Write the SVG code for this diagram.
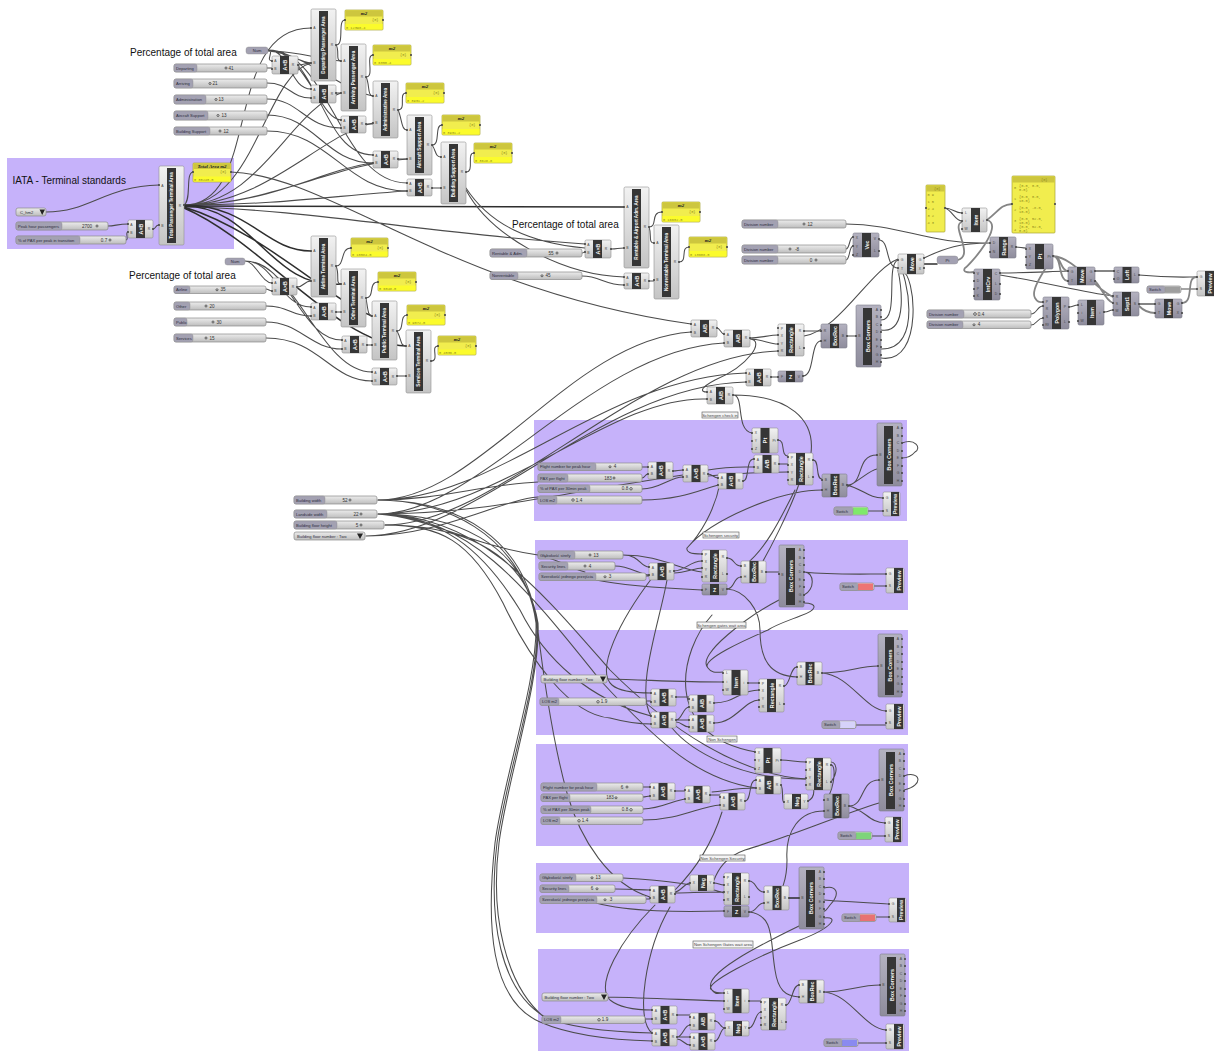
<svg xmlns="http://www.w3.org/2000/svg" width="1214" height="1051" viewBox="0 0 1214 1051">
<defs>
<linearGradient id="gb" x1="0" y1="0" x2="0" y2="1"><stop offset="0" stop-color="#f2f2f2"/><stop offset="1" stop-color="#c4c4c4"/></linearGradient>
<linearGradient id="gp" x1="0" y1="0" x2="0" y2="1"><stop offset="0" stop-color="#b4b2c0"/><stop offset="1" stop-color="#8e8c9c"/></linearGradient>
<linearGradient id="gs" x1="0" y1="0" x2="0" y2="1"><stop offset="0" stop-color="#ececec"/><stop offset="1" stop-color="#bdbdbd"/></linearGradient>
</defs>
<style>
text{font-family:"Liberation Sans",Arial,sans-serif}
.z{fill:#c6b2fa}
.h{font-size:10px;fill:#111}
.w{fill:none;stroke:#4c4c4c;stroke-width:1.05;stroke-linecap:round}
.wg{fill:none;stroke:#858585;stroke-width:1.8;stroke-linecap:round}
.wt{fill:none;stroke:#2e2e2e;stroke-width:1.5;stroke-linecap:round}
.b{fill:url(#gb);stroke:#909090;stroke-width:.6}
.bp{fill:url(#gp);stroke:#7c7c8a;stroke-width:.6}
.s{fill:#363636}
.t{font-size:5.3px;font-weight:700;fill:#f4f4f4;text-anchor:middle;dominant-baseline:central}
#total-terminal .t,#departing .t,#arriving .t,#administrative .t,#aircraft-support .t,#building-support .t,#airline .t,#other .t,#public .t,#services .t,#rentable .t,#nonrentable .t{font-size:4.6px}
.p{font-size:3.4px;fill:#444;text-anchor:middle}
.c{fill:none;stroke:#4a4a4a;stroke-width:2.2;stroke-linecap:round}
.sl{fill:url(#gs);stroke:#8a8a8a;stroke-width:.7}
.sll{fill:#a3a1b2;stroke:#8a8a8a;stroke-width:.4}
.l{font-size:4.1px;fill:#2c2c3a}
.v{font-size:4.6px;fill:#333;text-anchor:middle}
.k{fill:#fff;stroke:#333;stroke-width:.8}
.pa{fill:#f1ed4e;stroke:#a8a436;stroke-width:.7}
.pt{fill:#cdc63e}
.pv{fill:#fbfb2c}
.pn{font-size:5px;font-weight:700;font-style:italic;font-family:"Liberation Serif",serif;fill:#222;text-anchor:middle}
.pi{font-size:3.6px;font-family:"Liberation Mono",monospace;fill:#8f8a1c}
.n{fill:#f4f4f4;stroke:#555;stroke-width:.6}
.nt{font-size:4.2px;fill:#444;text-anchor:middle}
.fl{fill:#222}
</style>

<g id="zones">
<rect class="z" x="7" y="158" width="227" height="91"/>
<rect class="z" x="534" y="420" width="373" height="101"/>
<rect class="z" x="535" y="540" width="373" height="70"/>
<rect class="z" x="536" y="630" width="372" height="105"/>
<rect class="z" x="536" y="744" width="372" height="102"/>
<rect class="z" x="536" y="863" width="373" height="70"/>
<rect class="z" x="538" y="949" width="371" height="102"/>
</g>

<g id="titles">
<text class="h" x="130" y="56">Percentage of total area</text>
<text class="h" x="129" y="279">Percentage of total area</text>
<text class="h" x="512" y="228">Percentage of total area</text>
<text class="h" x="12.5" y="184">IATA - Terminal standards</text>
</g>

<g id="connectors">
<path class="w" d="M46 212C90 212 105 186 159 185M108 226C115 226 118 224 128 224M126 240C129 240 125 232 128 232M153 229C156 229 155 225 159 225M184 205C192 200 185 173 193 172"/>
<path class="w" d="M184 205C262 205 222 28 311 28M184 205C255 205 265 75 311 63M184 205C260 205 290 110 341 93M184 205C265 205 320 135 373 123M184 205C270 205 330 165 407 159M184 205C270 205 320 170 373 163M184 205C280 205 340 195 407 191"/>
<path class="w" d="M268 50C275 50 265 61 272 61M268 50C290 50 290 89 311 89M268 50C305 50 320 120 341 120M268 50C320 50 320 155 373 155M268 50C330 50 340 183 407 183M268 50C285 50 300 63 311 63M268 51C300 51 320 60 341 61M268 51C310 55 340 90 373 96"/>
<path class="w" d="M267 68H272M267 83C290 83 290 98 311 98M267 99C300 99 305 128 341 128M267 115C315 115 325 163 373 163M267 131C330 131 345 191 407 191M298 65C304 65 305 63 311 63M336 93H341M366 124H373M398 159H407M432 188H441"/>
<path class="w" d="M336 45C345 45 337 20 345 20M366 77C375 77 365 55 373 55M398 110C407 110 398 93 406 93M432 145C441 145 434 125 442 125M466 172C475 172 466 153 474 153M336 45C340 50 335 61 341 61M366 77C370 84 367 96 373 96M398 110C402 118 401 130 407 130M432 145C436 150 435 157 441 157"/>
<path class="wt" d="M184 206C300 206 500 207 624 207"/>
<path class="w" d="M184 207C300 208 440 235 585 244M466 188C490 225 530 243 585 248M231 172C330 175 450 290 691 324M466 190C490 235 560 275 624 277M582 253C584 253 583 252 585 252M582 276C600 276 605 285 624 285M611 249C618 249 617 248 624 248M649 281H654M649 227C658 227 650 212 662 212M679 262C688 262 680 247 689 247M649 227C652 235 648 243 654 243"/>
<path class="wt" d="M184 205C250 205 265 251 311 251M184 206C255 206 270 290 341 284M184 207C260 230 330 300 372 316M184 208C260 240 340 346 406 346"/>
<path class="w" d="M297 287C304 287 304 281 311 281M245 261C255 261 262 283 272 283M245 261C275 261 280 307 311 307M245 261C290 261 300 340 342 340M245 261C295 261 320 372 372 372M266 289C268 289 270 291 272 291M266 306C290 306 290 316 311 316M266 322C300 322 310 349 342 349M266 338C320 338 330 381 372 381M336 312H341M367 345H372M397 376H406M336 266C345 266 340 248 351 248M366 298C375 298 368 282 378 282M397 331C405 331 399 315 407 315M431 361C440 361 430 346 438 346M336 266C340 275 335 284 341 284M366 298C368 310 368 316 372 316M397 331C402 340 400 346 406 346"/>
<path class="w" d="M846 224C900 224 930 245 990 243M846 249C850 249 849 237 853 237M846 260C850 260 849 246 853 246M879 240C890 240 885 268 898 268M804 336C840 330 870 270 898 259M924 258C945 248 960 243 990 243M1000 275C1050 283 1080 292 1113 296M945 208C952 208 955 213 962 213M945 208C952 210 955 221 962 221M1016 247C1020 247 1022 248 1026 248M1000 273C1030 273 1040 272 1068 271M1139 275C1170 278 1185 277 1197 277M1181 289H1197M1031 314C1037 314 1037 306 1043 306M1031 325C1037 325 1037 318 1043 318M1069 307C1073 307 1074 305 1078 305M1104 312C1110 312 1108 310 1113 310"/>
<path class="wt" d="M924 264H937"/>
<path class="wg" d="M987 220C1000 210 1000 205 1012 204M987 220C1005 225 970 265 965 268C962 272 968 273 974 272M958 260C975 255 950 225 962 222M1053 256C1062 256 1058 281 1068 281M1053 256C1062 256 1060 271 1068 271M1053 256C1075 258 1090 285 1113 297M1053 256C1045 270 1030 290 1035 298C1038 303 1040 302 1043 302M1095 271H1114M1095 281C1100 285 1105 300 1113 303M1182 303C1195 303 1185 276 1197 277M1139 304H1155M1139 306C1145 312 1150 313 1155 313"/>
<path class="w" d="M881 320C900 320 885 265 898 260M881 330C910 335 900 280 898 270M881 349C925 350 905 270 900 268M881 358C925 365 915 270 902 272M804 331H821M803 376C815 376 810 341 821 341M847 336H856M717 328C720 328 721 334 724 334M750 338C760 338 770 335 778 335M750 339C760 339 770 344 778 344M750 339C765 340 750 365 715 380C700 388 700 392 707 392M771 377H778"/>
<path class="w" d="M378 500C480 500 570 340 691 332M378 514C480 514 590 350 724 343M378 500C500 500 600 378 746 373M366 536C480 536 600 385 746 382M378 514C500 514 610 395 707 399M385 525C500 525 640 355 778 351M378 500C440 500 480 485 538 482M366 536C440 536 500 500 538 497M378 514C480 514 550 495 683 475M733 395C745 395 735 430 752 433M733 395C790 395 815 420 811 453"/>
<path class="w" d="M378 500C440 500 520 530 537 623C540 680 505 780 497 843C488 920 500 990 545 1017C570 1028 610 1032 652 1033M378 514C450 514 525 540 536 623C538 680 503 780 495 843C486 925 490 1000 540 1022C570 1035 610 1040 652 1041M385 525C450 525 525 545 538 623C541 680 507 780 499 843C490 915 505 985 545 1018M378 500C460 500 525 540 537 623C545 690 555 750 567 793C580 840 610 885 650 897M385 525C440 525 470 540 503 603C530 660 570 715 610 718C625 722 640 724 651 724M378 514C440 518 480 545 520 610C545 660 590 700 651 716M378 514C470 518 520 580 600 680C660 745 700 780 756 788M378 514C480 515 540 590 610 670C670 730 740 775 806 779M378 514C430 518 470 545 538 555C560 560 575 570 585 572"/>
<path class="w" d="M642 467H648M642 478C645 478 645 474 648 474M673 471C677 471 679 470 683 470M642 489C660 489 670 477 683 477M708 474C712 474 714 478 718 478M642 500C680 500 700 490 718 485M743 481C750 481 745 459 754 459M708 476C730 474 760 472 788 472M708 470C730 466 745 467 754 467M779 464H788M778 440C786 440 780 456 788 456M813 460C820 460 815 479 822 479M847 485C865 485 855 455 877 455M847 485C865 490 868 498 883 498M847 487C860 480 870 470 877 469M868 511H883M902 443C915 438 922 448 915 452C910 458 905 458 902 458M822 490C780 490 710 520 687 548C686 552 690 554 702 554M720 483C715 510 700 535 687 548M799 484C790 510 770 550 755 575M795 490C780 520 765 550 745 565"/>
<path class="w" d="M623 555C640 555 640 567 649 567M615 566C630 566 640 575 649 575M646 576H649M623 555C660 555 680 570 702 572M674 571C685 571 690 561 702 561M674 573C685 573 695 568 702 568M596 580C620 585 660 588 702 590M727 558C735 558 733 566 741 566M727 589C735 589 733 577 741 577M766 572H779M804 572C830 575 860 574 886 574M874 586H886M804 572C815 572 815 590 804 595M804 603C818 603 818 610 800 616C790 620 775 625 768 630C745 640 700 660 708 668C712 674 718 672 723 672M779 600C750 615 695 655 708 668M727 589C745 590 760 610 760 630C760 660 770 676 797 677"/>
<path class="w" d="M607 679C650 680 680 682 723 682M652 578C620 620 595 670 612 685C620 692 640 693 651 693M646 701H651M667 580C660 620 635 690 651 716M676 697H689M676 720C682 720 683 707 689 707M676 720H689M676 722C682 722 683 727 689 727M714 703C735 703 740 690 759 690M714 723C735 723 745 700 759 700M748 683H759M784 686C790 686 790 667 797 667M822 673C845 673 860 666 878 666M822 673C850 675 865 710 886 711M856 725H886"/>
<path class="w" d="M712 615C680 650 660 735 756 752M672 728C690 750 740 780 806 779"/>
<path class="w" d="M643 787H650M643 797C646 797 647 796 650 796M675 791H685M643 809C660 809 675 800 685 799M710 795H720M643 820C680 820 700 806 720 805M745 801C752 801 748 780 756 780M712 792C730 790 740 788 756 788M781 785C784 790 781 802 784 802M808 801C820 795 810 775 806 776M781 760C790 760 796 762 806 762M831 765C838 765 832 800 824 800M831 782C840 770 835 762 831 762M849 806C865 806 860 780 879 780M849 806C865 810 870 823 885 823M872 836H885M904 776C920 770 925 785 904 790M879 803C840 815 780 840 745 850C725 857 718 870 714 880M824 811C800 811 785 830 787 860C787 875 785 880 783 886M675 890C690 875 710 850 722 812"/>
<path class="w" d="M623 878C660 880 700 885 724 893M615 889C635 889 640 890 650 890M646 899H650M596 903C630 912 680 912 724 911M675 892C680 892 685 883 690 883M675 893C690 893 700 892 724 892M714 883C718 883 720 885 724 885M749 881C757 881 755 892 764 892M749 912C757 912 757 903 764 903M824 900C850 902 870 903 889 904M876 917H889M824 888C835 885 842 892 830 905C825 912 824 912 824 910M824 918C840 916 832 928 800 940C760 955 700 985 712 990C715 993 718 993 724 993M799 926C760 945 700 975 712 990C715 995 718 993 724 993M749 912C775 915 770 940 775 970C778 990 785 996 799 997"/>
<path class="wt" d="M789 898H799"/>
<path class="w" d="M608 997C650 998 690 1000 724 1001M655 905C620 940 595 985 610 1000C620 1008 635 1010 652 1010M670 907C645 950 635 1020 652 1033M645 1019H652M677 1015H690M677 1037C683 1037 684 1025 690 1025M677 1037H690M677 1039C683 1039 684 1045 690 1045M715 1021C720 1021 720 1028 725 1028M715 1041C720 1041 720 1028 725 1028M749 1028C755 1028 755 1012 761 1012M749 1001H761M786 1005C792 1005 792 985 799 985M824 992C845 992 860 985 880 985M824 992C850 994 865 1029 886 1030M858 1043H886"/>
</g>

<g id="total-terminal" transform="translate(159,166)"><rect class="b" width="25" height="79" rx="1.5"/><rect class="s" x="8" y="2" width="9" height="75"/><text class="t" transform="translate(12.5,39.5) rotate(-90)">Total Passenger Terminal Area</text><text class="p" x="3.5" y="20.5">A</text><text class="p" x="3.5" y="60.5">B</text><text class="p" x="21" y="40.5">R</text><path class="c" d="M0 19h.01M0 59h.01M25 39h.01"/></g>
<g id="departing" transform="translate(311,9)"><rect class="b" width="25" height="72" rx="1.5"/><rect class="s" x="8" y="2" width="9" height="68"/><text class="t" transform="translate(12.5,36) rotate(-90)">Departing Passenger Area</text><text class="p" x="3.5" y="20">A</text><text class="p" x="3.5" y="55">B</text><text class="p" x="21" y="37">R</text><path class="c" d="M0 19h.01M0 54h.01M25 36h.01"/></g>
<g id="arriving" transform="translate(341,44)"><rect class="b" width="25" height="67" rx="1.5"/><rect class="s" x="8" y="2" width="9" height="63"/><text class="t" transform="translate(12.5,33.5) rotate(-90)">Arriving Passenger Area</text><text class="p" x="3.5" y="18">A</text><text class="p" x="3.5" y="50">B</text><text class="p" x="21" y="34">R</text><path class="c" d="M0 17h.01M0 49h.01M25 33h.01"/></g>
<g id="administrative" transform="translate(373,81)"><rect class="b" width="25" height="57" rx="1.5"/><rect class="s" x="8" y="2" width="9" height="53"/><text class="t" transform="translate(12.5,28.5) rotate(-90)">Administrative Area</text><text class="p" x="3.5" y="16">A</text><text class="p" x="3.5" y="43">B</text><text class="p" x="21" y="30">R</text><path class="c" d="M0 15h.01M0 42h.01M25 29h.01"/></g>
<g id="aircraft-support" transform="translate(407,115)"><rect class="b" width="25" height="60" rx="1.5"/><rect class="s" x="8" y="2" width="9" height="56"/><text class="t" transform="translate(12.5,30) rotate(-90)">Aircraft Support Area</text><text class="p" x="3.5" y="16">A</text><text class="p" x="3.5" y="45">B</text><text class="p" x="21" y="31">R</text><path class="c" d="M0 15h.01M0 44h.01M25 30h.01"/></g>
<g id="building-support" transform="translate(441,142)"><rect class="b" width="25" height="62" rx="1.5"/><rect class="s" x="8" y="2" width="9" height="58"/><text class="t" transform="translate(12.5,31) rotate(-90)">Building Support Area</text><text class="p" x="3.5" y="16">A</text><text class="p" x="3.5" y="47">B</text><text class="p" x="21" y="31">R</text><path class="c" d="M0 15h.01M0 46h.01M25 30h.01"/></g>
<g id="airline" transform="translate(311,236)"><rect class="b" width="25" height="61" rx="1.5"/><rect class="s" x="8" y="2" width="9" height="57"/><text class="t" transform="translate(12.5,30.5) rotate(-90)">Airline Terminal Area</text><text class="p" x="3.5" y="16">A</text><text class="p" x="3.5" y="46">B</text><text class="p" x="21" y="31">R</text><path class="c" d="M0 15h.01M0 45h.01M25 30h.01"/></g>
<g id="other" transform="translate(341,269)"><rect class="b" width="25" height="58" rx="1.5"/><rect class="s" x="8" y="2" width="9" height="54"/><text class="t" transform="translate(12.5,29) rotate(-90)">Other Terminal Area</text><text class="p" x="3.5" y="16">A</text><text class="p" x="3.5" y="44">B</text><text class="p" x="21" y="30">R</text><path class="c" d="M0 15h.01M0 43h.01M25 29h.01"/></g>
<g id="public" transform="translate(372,301)"><rect class="b" width="25" height="59" rx="1.5"/><rect class="s" x="8" y="2" width="9" height="55"/><text class="t" transform="translate(12.5,29.5) rotate(-90)">Public Terminal Area</text><text class="p" x="3.5" y="16">A</text><text class="p" x="3.5" y="45">B</text><text class="p" x="21" y="31">R</text><path class="c" d="M0 15h.01M0 44h.01M25 30h.01"/></g>
<g id="services" transform="translate(406,330)"><rect class="b" width="25" height="63" rx="1.5"/><rect class="s" x="8" y="2" width="9" height="59"/><text class="t" transform="translate(12.5,31.5) rotate(-90)">Services Terminal Area</text><text class="p" x="3.5" y="17">A</text><text class="p" x="3.5" y="47">B</text><text class="p" x="21" y="32">R</text><path class="c" d="M0 16h.01M0 46h.01M25 31h.01"/></g>
<g id="rentable" transform="translate(624,187)"><rect class="b" width="25" height="81" rx="1.5"/><rect class="s" x="8" y="2" width="9" height="77"/><text class="t" transform="translate(12.5,40.5) rotate(-90)">Rentable &amp; Airport Adm. Area</text><text class="p" x="3.5" y="21">A</text><text class="p" x="3.5" y="62">B</text><text class="p" x="21" y="41">R</text><path class="c" d="M0 20h.01M0 61h.01M25 40h.01"/></g>
<g id="nonrentable" transform="translate(654,225)"><rect class="b" width="25" height="74" rx="1.5"/><rect class="s" x="8" y="2" width="9" height="70"/><text class="t" transform="translate(12.5,37) rotate(-90)">Nonrentable Terminal Area</text><text class="p" x="3.5" y="19">A</text><text class="p" x="3.5" y="56">B</text><text class="p" x="21" y="38">R</text><path class="c" d="M0 18h.01M0 55h.01M25 37h.01"/></g>

<g id="mul-total" transform="translate(128,220)"><rect class="b" width="25" height="18" rx="1.5"/><rect class="s" x="8" width="9" height="18"/><text class="t" transform="translate(12.5,9) rotate(-90)">A×B</text><text class="p" x="3.5" y="6">A</text><text class="p" x="3.5" y="14">B</text><text class="p" x="21" y="10">R</text><path class="c" d="M0 4h.01M0 12h.01M25 9h.01"/></g>
<g id="mul-1" transform="translate(272,56)"><rect class="b" width="26" height="18" rx="1.5"/><rect class="s" x="8" width="9" height="18"/><text class="t" transform="translate(12.5,9) rotate(-90)">A×B</text><text class="p" x="3.5" y="6">A</text><text class="p" x="3.5" y="14">B</text><text class="p" x="21" y="10">R</text><path class="c" d="M0 5h.01M0 13h.01M26 9h.01"/></g>
<g id="mul-2" transform="translate(311,85)"><rect class="b" width="25" height="18" rx="1.5"/><rect class="s" x="8" width="9" height="18"/><text class="t" transform="translate(12.5,9) rotate(-90)">A×B</text><text class="p" x="3.5" y="6">A</text><text class="p" x="3.5" y="14">B</text><text class="p" x="21" y="10">R</text><path class="c" d="M0 4h.01M0 13h.01M25 8h.01"/></g>
<g id="mul-3" transform="translate(341,116)"><rect class="b" width="25" height="17" rx="1.5"/><rect class="s" x="8" width="9" height="17"/><text class="t" transform="translate(12.5,8.5) rotate(-90)">A×B</text><text class="p" x="3.5" y="6">A</text><text class="p" x="3.5" y="13">B</text><text class="p" x="21" y="9">R</text><path class="c" d="M0 4h.01M0 12h.01M25 8h.01"/></g>
<g id="mul-4" transform="translate(373,151)"><rect class="b" width="25" height="17" rx="1.5"/><rect class="s" x="8" width="9" height="17"/><text class="t" transform="translate(12.5,8.5) rotate(-90)">A×B</text><text class="p" x="3.5" y="6">A</text><text class="p" x="3.5" y="13">B</text><text class="p" x="21" y="9">R</text><path class="c" d="M0 4h.01M0 12h.01M25 8h.01"/></g>
<g id="mul-5" transform="translate(407,179)"><rect class="b" width="25" height="17" rx="1.5"/><rect class="s" x="8" width="9" height="17"/><text class="t" transform="translate(12.5,8.5) rotate(-90)">A×B</text><text class="p" x="3.5" y="6">A</text><text class="p" x="3.5" y="13">B</text><text class="p" x="21" y="9">R</text><path class="c" d="M0 4h.01M0 12h.01M25 9h.01"/></g>
<g id="mul-6" transform="translate(272,278)"><rect class="b" width="25" height="17" rx="1.5"/><rect class="s" x="8" width="9" height="17"/><text class="t" transform="translate(12.5,8.5) rotate(-90)">A×B</text><text class="p" x="3.5" y="6">A</text><text class="p" x="3.5" y="14">B</text><text class="p" x="21" y="10">R</text><path class="c" d="M0 5h.01M0 13h.01M25 9h.01"/></g>
<g id="mul-7" transform="translate(311,303)"><rect class="b" width="25" height="17" rx="1.5"/><rect class="s" x="8" width="9" height="17"/><text class="t" transform="translate(12.5,8.5) rotate(-90)">A×B</text><text class="p" x="3.5" y="6">A</text><text class="p" x="3.5" y="14">B</text><text class="p" x="21" y="10">R</text><path class="c" d="M0 4h.01M0 13h.01M25 9h.01"/></g>
<g id="mul-8" transform="translate(342,336)"><rect class="b" width="25" height="17" rx="1.5"/><rect class="s" x="8" width="9" height="17"/><text class="t" transform="translate(12.5,8.5) rotate(-90)">A×B</text><text class="p" x="3.5" y="6">A</text><text class="p" x="3.5" y="14">B</text><text class="p" x="21" y="10">R</text><path class="c" d="M0 4h.01M0 13h.01M25 9h.01"/></g>
<g id="mul-9" transform="translate(372,368)"><rect class="b" width="25" height="17" rx="1.5"/><rect class="s" x="8" width="9" height="17"/><text class="t" transform="translate(12.5,8.5) rotate(-90)">A×B</text><text class="p" x="3.5" y="6">A</text><text class="p" x="3.5" y="14">B</text><text class="p" x="21" y="10">R</text><path class="c" d="M0 4h.01M0 13h.01M25 8h.01"/></g>
<g id="mul-10" transform="translate(585,240)"><rect class="b" width="26" height="18" rx="1.5"/><rect class="s" x="8" width="9" height="18"/><text class="t" transform="translate(12.5,9) rotate(-90)">A×B</text><text class="p" x="3.5" y="6">A</text><text class="p" x="3.5" y="14">B</text><text class="p" x="21" y="10">R</text><path class="c" d="M0 4h.01M0 12h.01M26 9h.01"/></g>
<g id="mul-11" transform="translate(624,273)"><rect class="b" width="25" height="16" rx="1.5"/><rect class="s" x="8" width="9" height="16"/><text class="t" transform="translate(12.5,8) rotate(-90)">A×B</text><text class="p" x="3.5" y="6">A</text><text class="p" x="3.5" y="13">B</text><text class="p" x="21" y="9">R</text><path class="c" d="M0 4h.01M0 12h.01M25 8h.01"/></g>

<g id="panel-total" transform="translate(193,163)"><rect class="pa" width="38" height="19" rx="1"/><rect class="pt" x=".5" y=".5" width="37" height="5.5"/><rect class="pv" x=".5" y="13.5" width="37" height="5"/><text class="pn" x="19" y="4.6">Total Area m2</text><text class="pi" x="27" y="10">{0}</text><text class="pi" x="1" y="17.8">0 30240.0</text><path class="c" d="M0 9h.01M38 9h.01"/></g>
<g id="panel-1" transform="translate(345,10)"><rect class="pa" width="38" height="20" rx="1"/><rect class="pt" x=".5" y=".5" width="37" height="6"/><rect class="pv" x=".5" y="14" width="37" height="5.5"/><text class="pn" x="19" y="5">m2</text><text class="pi" x="27" y="11">{0}</text><text class="pi" x="1" y="18.5">0 12398.4</text><path class="c" d="M0 10h.01M38 10h.01"/></g>
<g id="panel-2" transform="translate(373,45)"><rect class="pa" width="38" height="20" rx="1"/><rect class="pt" x=".5" y=".5" width="37" height="6"/><rect class="pv" x=".5" y="14" width="37" height="5.5"/><text class="pn" x="19" y="5">m2</text><text class="pi" x="27" y="11">{0}</text><text class="pi" x="1" y="18.5">0 6350.4</text><path class="c" d="M0 10h.01M38 10h.01"/></g>
<g id="panel-3" transform="translate(406,83)"><rect class="pa" width="38" height="20" rx="1"/><rect class="pt" x=".5" y=".5" width="37" height="6"/><rect class="pv" x=".5" y="14" width="37" height="5.5"/><text class="pn" x="19" y="5">m2</text><text class="pi" x="27" y="11">{0}</text><text class="pi" x="1" y="18.5">0 3931.2</text><path class="c" d="M0 10h.01M38 10h.01"/></g>
<g id="panel-4" transform="translate(442,115)"><rect class="pa" width="38" height="20" rx="1"/><rect class="pt" x=".5" y=".5" width="37" height="6"/><rect class="pv" x=".5" y="14" width="37" height="5.5"/><text class="pn" x="19" y="5">m2</text><text class="pi" x="27" y="11">{0}</text><text class="pi" x="1" y="18.5">0 3931.2</text><path class="c" d="M0 10h.01M38 10h.01"/></g>
<g id="panel-5" transform="translate(474,143)"><rect class="pa" width="38" height="20" rx="1"/><rect class="pt" x=".5" y=".5" width="37" height="6"/><rect class="pv" x=".5" y="14" width="37" height="5.5"/><text class="pn" x="19" y="5">m2</text><text class="pi" x="27" y="11">{0}</text><text class="pi" x="1" y="18.5">0 3628.8</text><path class="c" d="M0 10h.01M38 10h.01"/></g>
<g id="panel-6" transform="translate(351,238)"><rect class="pa" width="37" height="19" rx="1"/><rect class="pt" x=".5" y=".5" width="36" height="6"/><rect class="pv" x=".5" y="13.5" width="36" height="5"/><text class="pn" x="18.5" y="5">m2</text><text class="pi" x="26" y="11">{0}</text><text class="pi" x="1" y="17.8">0 10584.0</text><path class="c" d="M0 10h.01M37 10h.01"/></g>
<g id="panel-7" transform="translate(378,272)"><rect class="pa" width="38" height="19" rx="1"/><rect class="pt" x=".5" y=".5" width="37" height="6"/><rect class="pv" x=".5" y="13.5" width="37" height="5"/><text class="pn" x="19" y="5">m2</text><text class="pi" x="27" y="11">{0}</text><text class="pi" x="1" y="17.8">0 6048.0</text><path class="c" d="M0 10h.01M38 10h.01"/></g>
<g id="panel-8" transform="translate(407,305)"><rect class="pa" width="38" height="20" rx="1"/><rect class="pt" x=".5" y=".5" width="37" height="6"/><rect class="pv" x=".5" y="14" width="37" height="5.5"/><text class="pn" x="19" y="5">m2</text><text class="pi" x="27" y="11">{0}</text><text class="pi" x="1" y="18.5">0 9072.0</text><path class="c" d="M0 10h.01M38 10h.01"/></g>
<g id="panel-9" transform="translate(438,336)"><rect class="pa" width="38" height="19" rx="1"/><rect class="pt" x=".5" y=".5" width="37" height="6"/><rect class="pv" x=".5" y="13.5" width="37" height="5"/><text class="pn" x="19" y="5">m2</text><text class="pi" x="27" y="11">{0}</text><text class="pi" x="1" y="17.8">0 4536.0</text><path class="c" d="M0 10h.01M38 10h.01"/></g>
<g id="panel-10" transform="translate(662,202)"><rect class="pa" width="38" height="20" rx="1"/><rect class="pt" x=".5" y=".5" width="37" height="6"/><rect class="pv" x=".5" y="14" width="37" height="5.5"/><text class="pn" x="19" y="5">m2</text><text class="pi" x="27" y="11">{0}</text><text class="pi" x="1" y="18.5">0 16632.0</text><path class="c" d="M0 10h.01M38 10h.01"/></g>
<g id="panel-11" transform="translate(689,237)"><rect class="pa" width="38" height="20" rx="1"/><rect class="pt" x=".5" y=".5" width="37" height="6"/><rect class="pv" x=".5" y="14" width="37" height="5.5"/><text class="pn" x="19" y="5">m2</text><text class="pi" x="27" y="11">{0}</text><text class="pi" x="1" y="18.5">0 13608.0</text><path class="c" d="M0 10h.01M38 10h.01"/></g>

<g id="s-hm2" transform="translate(16,208)"><rect class="sl" width="30" height="8" rx="2"/><text class="l" x="4" y="5.5">C_hm2</text><polygon class="fl" points="23.5,1.5 29,1.5 26.2,7"/></g>
<g id="s-peak" transform="translate(16,222)"><rect class="sl" width="92" height="8" rx="2"/><rect class="sll" width="46" height="8" rx="2"/><text class="l" x="2" y="5.5">Peak hour passengers</text><text class="v" x="71" y="5.6">2700</text><circle class="k" cx="81" cy="4" r="1"/></g>
<g id="s-pax" transform="translate(16,236)"><rect class="sl" width="110" height="8" rx="2"/><rect class="sll" width="64" height="8" rx="2"/><text class="l" x="2" y="5.5">% of PAX per peak in transition</text><text class="v" x="88" y="5.6">0.7</text><circle class="k" cx="94" cy="4" r="1"/></g>
<g id="s-dep" transform="translate(174,64)"><rect class="sl" width="93" height="8" rx="2"/><rect class="sll" width="23" height="8" rx="2"/><text class="l" x="2" y="5.5">Departing</text><circle class="k" cx="52" cy="4" r="1"/><text class="v" x="57" y="5.6">41</text></g>
<g id="s-arr" transform="translate(174,79)"><rect class="sl" width="93" height="9" rx="2"/><rect class="sll" width="19" height="9" rx="2"/><text class="l" x="2" y="6">Arriving</text><circle class="k" cx="36" cy="4.5" r="1"/><text class="v" x="41" y="6">21</text></g>
<g id="s-adm" transform="translate(174,95)"><rect class="sl" width="93" height="9" rx="2"/><rect class="sll" width="32" height="9" rx="2"/><text class="l" x="2" y="6">Administration</text><circle class="k" cx="42" cy="4.5" r="1"/><text class="v" x="47" y="6">13</text></g>
<g id="s-air" transform="translate(174,111)"><rect class="sl" width="93" height="9" rx="2"/><rect class="sll" width="34" height="9" rx="2"/><text class="l" x="2" y="6">Aircraft Support</text><circle class="k" cx="44" cy="4.5" r="1"/><text class="v" x="50" y="6">13</text></g>
<g id="s-bld" transform="translate(174,127)"><rect class="sl" width="93" height="8" rx="2"/><rect class="sll" width="36" height="8" rx="2"/><text class="l" x="2" y="5.5">Building Support</text><circle class="k" cx="46" cy="4" r="1"/><text class="v" x="52" y="5.6">12</text></g>
<g id="num-1" transform="translate(246,47)"><rect class="sll" width="22" height="7" rx="2.5"/><text class="l" x="11" y="5" text-anchor="middle">Num</text></g>
<g id="num-2" transform="translate(225,258)"><rect class="sll" width="20" height="7" rx="2.5"/><text class="l" x="10" y="5" text-anchor="middle">Num</text></g>
<g id="s-airl" transform="translate(174,286)"><rect class="sl" width="92" height="7.5" rx="2"/><rect class="sll" width="16" height="7.5" rx="2"/><text class="l" x="2" y="5.4">Airline</text><circle class="k" cx="43" cy="3.8" r="1"/><text class="v" x="49" y="5.4">35</text></g>
<g id="s-oth" transform="translate(174,302)"><rect class="sl" width="92" height="8" rx="2"/><rect class="sll" width="16" height="8" rx="2"/><text class="l" x="2" y="5.5">Other</text><circle class="k" cx="32" cy="4" r="1"/><text class="v" x="38" y="5.5">20</text></g>
<g id="s-pub" transform="translate(174,318)"><rect class="sl" width="92" height="8" rx="2"/><rect class="sll" width="13" height="8" rx="2"/><text class="l" x="2" y="5.5">Public</text><circle class="k" cx="39" cy="4" r="1"/><text class="v" x="45" y="5.5">30</text></g>
<g id="s-ser" transform="translate(174,334)"><rect class="sl" width="92" height="8" rx="2"/><rect class="sll" width="19" height="8" rx="2"/><text class="l" x="2" y="5.5">Services</text><circle class="k" cx="32" cy="4" r="1"/><text class="v" x="38" y="5.5">15</text></g>
<g id="s-ren" transform="translate(490,249)"><rect class="sl" width="92" height="8" rx="2"/><rect class="sll" width="37" height="8" rx="2"/><text class="l" x="2" y="5.5">Rentable &amp; Adm.</text><text class="v" x="61" y="5.5">55</text><circle class="k" cx="67" cy="4" r="1"/></g>
<g id="s-non" transform="translate(490,272)"><rect class="sl" width="92" height="7.5" rx="2"/><rect class="sll" width="28" height="7.5" rx="2"/><text class="l" x="2" y="5.3">Nonrentable</text><circle class="k" cx="52" cy="3.8" r="1"/><text class="v" x="58" y="5.3">45</text></g>
<g id="s-div1" transform="translate(742,220)"><rect class="sl" width="104" height="8" rx="2"/><rect class="sll" width="36" height="8" rx="2"/><text class="l" x="2" y="5.5">Division number</text><circle class="k" cx="62" cy="4" r="1"/><text class="v" x="68" y="5.5">12</text></g>
<g id="s-div2" transform="translate(742,245)"><rect class="sl" width="104" height="8" rx="2"/><rect class="sll" width="36" height="8" rx="2"/><text class="l" x="2" y="5.5">Division number</text><circle class="k" cx="48" cy="4" r="1"/><text class="v" x="55" y="5.5">-8</text></g>
<g id="s-div3" transform="translate(742,256)"><rect class="sl" width="104" height="8" rx="2"/><rect class="sll" width="36" height="8" rx="2"/><text class="l" x="2" y="5.5">Division number</text><text class="v" x="69" y="5.5">0</text><circle class="k" cx="74" cy="4" r="1"/></g>
<g id="s-div4" transform="translate(927,310)"><rect class="sl" width="104" height="8" rx="2"/><rect class="sll" width="37" height="8" rx="2"/><text class="l" x="2" y="5.5">Division number</text><circle class="k" cx="48" cy="4" r="1.3"/><text class="v" x="54" y="5.5">0.4</text></g>
<g id="s-div5" transform="translate(927,321)"><rect class="sl" width="104" height="7.5" rx="2"/><rect class="sll" width="36" height="7.5" rx="2"/><text class="l" x="2" y="5.3">Division number</text><circle class="k" cx="47" cy="3.8" r="1"/><text class="v" x="52" y="5.3">4</text></g>

<g id="vec" transform="translate(853,233)"><rect class="bp" width="26" height="24" rx="1.5"/><rect class="s" x="9" width="9" height="24"/><text class="t" transform="translate(13.5,12) rotate(-90)">Vec</text><text class="p" x="4" y="5.5">X</text><text class="p" x="4" y="14.5">Y</text><text class="p" x="4" y="23">Z</text><text class="p" x="22" y="7">V</text><text class="p" x="22" y="19">L</text><path class="c" d="M0 4h.01M0 13h.01M0 22h.01M26 6h.01M26 18h.01"/></g>
<g id="div-1" transform="translate(691,320)"><rect class="b" width="26" height="17" rx="1.5"/><rect class="s" x="9" width="9" height="17"/><text class="t" transform="translate(13.5,8.5) rotate(-90)">A/B</text><text class="p" x="4" y="6">A</text><text class="p" x="4" y="14">B</text><text class="p" x="22" y="9">R</text><path class="c" d="M0 4h.01M0 12h.01M26 8h.01"/></g>
<g id="div-2" transform="translate(724,330)"><rect class="b" width="26" height="17" rx="1.5"/><rect class="s" x="9" width="9" height="17"/><text class="t" transform="translate(13.5,8.5) rotate(-90)">A/B</text><text class="p" x="4" y="6">A</text><text class="p" x="4" y="14">B</text><text class="p" x="22" y="9">R</text><path class="c" d="M0 4h.01M0 13h.01M26 8h.01"/></g>
<g id="rect-0" transform="translate(778,324)"><rect class="b" width="26" height="32" rx="1.5"/><rect class="s" x="8" width="9" height="32"/><text class="t" transform="translate(12.5,16) rotate(-90)">Rectangle</text><text class="p" x="4" y="6">P</text><text class="p" x="4" y="13">X</text><text class="p" x="4" y="21">Y</text><text class="p" x="4" y="28">R</text><text class="p" x="22" y="8">R</text><text class="p" x="22" y="25">L</text><path class="c" d="M0 4h.01M0 11h.01M0 20h.01M0 27h.01M26 7h.01M26 24h.01"/></g>
<g id="boxrec-0" transform="translate(821,324)"><rect class="bp" width="26" height="24" rx="1.5"/><rect class="s" x="9" width="9" height="24"/><text class="t" transform="translate(13.5,12) rotate(-90)">BoxRec</text><text class="p" x="4" y="8">R</text><text class="p" x="4" y="18">H</text><text class="p" x="22" y="13">B</text><path class="c" d="M0 7h.01M0 17h.01M26 12h.01"/></g>
<g id="corners-0" transform="translate(856,305)"><rect class="bp" width="25" height="62" rx="1.5"/><rect class="s" x="7" y="3" width="9" height="57"/><text class="t" transform="translate(11.5,31) rotate(-90)">Box Corners</text><text class="p" x="3.5" y="32">B</text><text class="p" x="21" y="6">A</text><text class="p" x="21" y="13">B</text><text class="p" x="21" y="21">C</text><text class="p" x="21" y="28">D</text><text class="p" x="21" y="36">E</text><text class="p" x="21" y="43">F</text><text class="p" x="21" y="51">G</text><text class="p" x="21" y="58">H</text><path class="c" d="M0 31h.01M25 5h.01M25 12h.01M25 20h.01M25 27h.01M25 35h.01M25 42h.01M25 50h.01M25 57h.01"/></g>
<g id="mul-12" transform="translate(746,369)"><rect class="b" width="25" height="17" rx="1.5"/><rect class="s" x="8" width="9" height="17"/><text class="t" transform="translate(12.5,8.5) rotate(-90)">A×B</text><text class="p" x="3.5" y="6">A</text><text class="p" x="3.5" y="14">B</text><text class="p" x="21" y="9">R</text><path class="c" d="M0 4h.01M0 13h.01M25 8h.01"/></g>
<g id="z-0" transform="translate(778,371)"><rect class="bp" width="25" height="11" rx="1.5"/><rect class="s" x="8" width="9" height="11"/><text class="t" x="12.5" y="5.5">Z</text><text class="p" x="4" y="7">F</text><text class="p" x="21" y="7">V</text><path class="c" d="M0 6h.01M25 5h.01"/></g>
<g id="div-3" transform="translate(707,387)"><rect class="b" width="26" height="17" rx="1.5"/><rect class="s" x="9" width="9" height="17"/><text class="t" transform="translate(13.5,8.5) rotate(-90)">A/B</text><text class="p" x="4" y="6">A</text><text class="p" x="4" y="14">B</text><text class="p" x="22" y="9">R</text><path class="c" d="M0 5h.01M0 12h.01M26 8h.01"/></g>

<g id="panel-list" transform="translate(926,185)"><rect class="pa" width="19" height="47" rx="1"/><rect class="pt" x=".5" y=".5" width="18" height="6"/><text class="pi" x="8" y="5">{0}</text><text class="pi" x="1.5" y="11">0 9</text><text class="pi" x="1.5" y="18">1 5</text><text class="pi" x="1.5" y="25">2 4</text><text class="pi" x="1.5" y="32">3 2</text><text class="pi" x="1.5" y="39">4 3</text><path class="c" d="M0 23h.01M19 23h.01"/></g>
<g id="panel-points" transform="translate(1012,176)"><rect class="pa" width="43" height="57" rx="1"/><rect class="pt" x=".5" y=".5" width="42" height="6"/><text class="pi" x="29" y="5">{0}</text>
<text class="pi" x="7" y="11">{0.0, 0.0,</text><text class="pi" x="7" y="15">0.0}</text><text class="pi" x="7" y="22">{0.0, 0.0,</text><text class="pi" x="7" y="26">10.0}</text><text class="pi" x="7" y="33">{0.0, -8.0,</text><text class="pi" x="7" y="37">10.0}</text><text class="pi" x="7" y="44">{0.0, 52.0,</text><text class="pi" x="7" y="48">10.0}</text><text class="pi" x="7" y="52">{0.0, 52.0,</text><text class="pi" x="7" y="56">0.0}</text><text class="pi" x="2" y="13">0</text><text class="pi" x="2" y="24">1</text><text class="pi" x="2" y="35">2</text><text class="pi" x="2" y="46">3</text><text class="pi" x="2" y="55">4</text><path class="c" d="M0 28h.01M43 28h.01"/></g>
<g id="item-0" transform="translate(962,208)"><rect class="b" width="25" height="24" rx="1.5"/><rect class="s" x="9" width="9" height="24"/><text class="t" transform="translate(13.5,12) rotate(-90)">Item</text><text class="p" x="4" y="6">L</text><text class="p" x="4" y="14">i</text><text class="p" x="4" y="22">W</text><text class="p" x="21.5" y="14">i</text><path class="c" d="M0 5h.01M0 13h.01M0 21h.01M25 12h.01"/></g>
<g id="range" transform="translate(990,237)"><rect class="bp" width="26" height="21" rx="1.5"/><rect class="s" x="9" width="9" height="21"/><text class="t" transform="translate(13.5,10.5) rotate(-90)">Range</text><text class="p" x="4" y="7">D</text><text class="p" x="4" y="16">N</text><text class="p" x="22" y="11">R</text><path class="c" d="M0 6h.01M0 15h.01M26 10h.01"/></g>
<g id="pt-0" transform="translate(1026,244)"><rect class="bp" width="27" height="25" rx="1.5"/><rect class="s" x="9" width="9" height="25"/><text class="t" transform="translate(13.5,12.5) rotate(-90)">Pt</text><text class="p" x="4" y="6">X</text><text class="p" x="4" y="14">Y</text><text class="p" x="4" y="22">Z</text><text class="p" x="23" y="14">Pt</text><path class="c" d="M0 5h.01M0 13h.01M0 21h.01M27 12h.01"/></g>
<g id="move-1" transform="translate(898,254)"><rect class="b" width="26" height="20" rx="1.5"/><rect class="s" x="9" width="9" height="20"/><text class="t" transform="translate(13.5,10) rotate(-90)">Move</text><text class="p" x="4" y="7">G</text><text class="p" x="4" y="16">T</text><text class="p" x="22" y="7">G</text><text class="p" x="22" y="16">X</text><path class="c" d="M0 6h.01M0 14h.01M26 4h.01M26 14h.01"/></g>
<g id="pt-param" transform="translate(937,256)"><rect class="sll" width="21" height="8" rx="3"/><text class="l" x="10.5" y="5.5" text-anchor="middle">Pt</text></g>
<g id="intcrv" transform="translate(974,269)"><rect class="bp" width="26" height="31" rx="1.5"/><rect class="s" x="9" width="9" height="31"/><text class="t" transform="translate(13.5,15.5) rotate(-90)">IntCrv</text><text class="p" x="4" y="6">V</text><text class="p" x="4" y="13">D</text><text class="p" x="4" y="21">P</text><text class="p" x="4" y="28">K</text><text class="p" x="22" y="6">C</text><text class="p" x="22" y="16">L</text><text class="p" x="22" y="26">D</text><path class="c" d="M0 4h.01M0 12h.01M0 20h.01M0 27h.01M26 4h.01M26 15h.01M26 25h.01"/></g>
<g id="move-2" transform="translate(1068,267)"><rect class="bp" width="27" height="18" rx="1.5"/><rect class="s" x="9" width="9" height="18"/><text class="t" transform="translate(13.5,9) rotate(-90)">Move</text><text class="p" x="4" y="6">G</text><text class="p" x="4" y="15">T</text><text class="p" x="23" y="6">G</text><text class="p" x="23" y="15">X</text><path class="c" d="M0 4h.01M0 14h.01M27 4h.01M27 14h.01"/></g>
<g id="loft" transform="translate(1114,267)"><rect class="bp" width="25" height="16" rx="1.5"/><rect class="s" x="8.5" width="9" height="16"/><text class="t" transform="translate(13,8) rotate(-90)">Loft</text><text class="p" x="4" y="6">C</text><text class="p" x="4" y="13">O</text><text class="p" x="21" y="9">L</text><path class="c" d="M0 4h.01M0 12h.01M25 8h.01"/></g>
<g id="preview-0" transform="translate(1197,271)"><rect class="b" width="25" height="25" rx="1.5"/><rect class="s" x="8" width="9" height="25"/><text class="t" transform="translate(12.5,12.5) rotate(-90)">Preview</text><text class="p" x="4" y="7">G</text><text class="p" x="4" y="19">S</text><path class="c" d="M0 6h.01M0 18h.01"/></g>
<g id="switch-0" transform="translate(1147,286)"><rect class="sl" width="34" height="7" rx="2"/><rect x="18" y=".5" width="15" height="6" fill="#9e9e9e"/><rect class="sll" width="18" height="7" rx="2"/><text class="l" x="2" y="5">Switch</text></g>
<g id="srf" transform="translate(1113,292)"><rect class="bp" width="26" height="24" rx="1.5"/><rect class="s" x="9" width="9" height="24"/><text class="t" transform="translate(13.5,12) rotate(-90)">Sept1</text><text class="p" x="4" y="6">R</text><text class="p" x="4" y="13">S</text><text class="p" x="4" y="20">M</text><text class="p" x="22" y="13">S</text><path class="c" d="M0 4h.01M0 11h.01M0 18h.01M26 12h.01"/></g>
<g id="move-3" transform="translate(1155,299)"><rect class="bp" width="27" height="19" rx="1.5"/><rect class="s" x="9" width="9" height="19"/><text class="t" transform="translate(13.5,9.5) rotate(-90)">Move</text><text class="p" x="4" y="6">G</text><text class="p" x="4" y="15">T</text><text class="p" x="23" y="6">G</text><text class="p" x="23" y="15">X</text><path class="c" d="M0 5h.01M0 14h.01M27 4h.01M27 14h.01"/></g>
<g id="polygon" transform="translate(1043,297)"><rect class="bp" width="26" height="32" rx="1.5"/><rect class="s" x="9" width="9" height="32"/><text class="t" transform="translate(13.5,16) rotate(-90)">Polygon</text><text class="p" x="4" y="6">P</text><text class="p" x="4" y="13">R</text><text class="p" x="4" y="21">S</text><text class="p" x="4" y="29">Rf</text><text class="p" x="22" y="11">P</text><text class="p" x="22" y="26">L</text><path class="c" d="M0 5h.01M0 9h.01M0 21h.01M0 28h.01M26 10h.01M26 25h.01"/></g>
<g id="item-1" transform="translate(1078,300)"><rect class="bp" width="26" height="25" rx="1.5"/><rect class="s" x="9" width="9" height="25"/><text class="t" transform="translate(13.5,12.5) rotate(-90)">Item</text><text class="p" x="4" y="6">L</text><text class="p" x="4" y="14">i</text><text class="p" x="4" y="22">W</text><text class="p" x="22" y="14">i</text><path class="c" d="M0 5h.01M0 13h.01M0 21h.01M26 12h.01"/></g>

<g id="s-bw" transform="translate(294,496)"><rect class="sl" width="83" height="8" rx="2"/><rect class="sll" width="31" height="8" rx="2"/><text class="l" x="2" y="5.5">Building width</text><text class="v" x="51" y="5.5">52</text><circle class="k" cx="56" cy="4" r="1"/></g>
<g id="s-lw" transform="translate(294,510)"><rect class="sl" width="83" height="8" rx="2"/><rect class="sll" width="33" height="8" rx="2"/><text class="l" x="2" y="5.5">Landside width</text><text class="v" x="62" y="5.5">22</text><circle class="k" cx="67" cy="4" r="1"/></g>
<g id="s-fh" transform="translate(294,521)"><rect class="sl" width="90" height="8" rx="2"/><rect class="sll" width="43" height="8" rx="2"/><text class="l" x="2" y="5.5">Building floor height</text><text class="v" x="63" y="5.5">5</text><circle class="k" cx="67" cy="4" r="1"/></g>
<g id="d-fn" transform="translate(294,532)"><rect class="sl" width="71" height="8" rx="2"/><text class="l" x="3" y="5.5">Building floor number : Two</text><polygon class="fl" points="63,1.5 69,1.5 66,7"/></g>

<g id="note-1" transform="translate(702,412)"><rect class="n" width="36" height="6"/><text class="nt" x="18" y="4.6">Schengen check in</text></g>
<g id="s-c1" transform="translate(538,463)"><rect class="sl" width="104" height="7.5" rx="2"/><rect class="sll" width="58" height="7.5" rx="2"/><text class="l" x="2" y="5.3">Flight number for peak hour</text><circle class="k" cx="72" cy="3.8" r="1"/><text class="v" x="77" y="5.3">4</text></g>
<g id="s-c2" transform="translate(538,474)"><rect class="sl" width="104" height="8" rx="2"/><rect class="sll" width="30" height="8" rx="2"/><text class="l" x="2" y="5.5">PAX per flight</text><text class="v" x="70" y="5.5">183</text><circle class="k" cx="76" cy="4" r="1"/></g>
<g id="s-c3" transform="translate(538,485)"><rect class="sl" width="104" height="7.5" rx="2"/><rect class="sll" width="52" height="7.5" rx="2"/><text class="l" x="2" y="5.3">% of PAX per 30min peak</text><text class="v" x="87" y="5.3">0.8</text><circle class="k" cx="93" cy="3.8" r="1.2"/></g>
<g id="s-c4" transform="translate(538,496)"><rect class="sl" width="104" height="8" rx="2"/><rect class="sll" width="19" height="8" rx="2"/><text class="l" x="2" y="5.5">LOS m2</text><circle class="k" cx="35" cy="4" r="1.2"/><text class="v" x="41" y="5.5">1.4</text></g>
<g id="mul-c1" transform="translate(648,462)"><rect class="b" width="25" height="17" rx="1.5"/><rect class="s" x="8.5" width="9" height="17"/><text class="t" transform="translate(13,8.5) rotate(-90)">A×B</text><text class="p" x="4" y="6">A</text><text class="p" x="4" y="13">B</text><text class="p" x="21" y="10">R</text><path class="c" d="M0 5h.01M0 12h.01M25 9h.01"/></g>
<g id="mul-c2" transform="translate(683,465)"><rect class="b" width="25" height="17" rx="1.5"/><rect class="s" x="8.5" width="9" height="17"/><text class="t" transform="translate(13,8.5) rotate(-90)">A×B</text><text class="p" x="4" y="6">A</text><text class="p" x="4" y="13">B</text><text class="p" x="21" y="10">R</text><path class="c" d="M0 5h.01M0 12h.01M25 9h.01"/></g>
<g id="mul-c3" transform="translate(718,473)"><rect class="b" width="25" height="16" rx="1.5"/><rect class="s" x="8.5" width="9" height="16"/><text class="t" transform="translate(13,8) rotate(-90)">A×B</text><text class="p" x="4" y="6">A</text><text class="p" x="4" y="13">B</text><text class="p" x="21" y="9">R</text><path class="c" d="M0 5h.01M0 12h.01M25 8h.01"/></g>
<g id="div-c" transform="translate(754,455)"><rect class="b" width="25" height="18" rx="1.5"/><rect class="s" x="8.5" width="9" height="18"/><text class="t" transform="translate(13,9) rotate(-90)">A/B</text><text class="p" x="4" y="6">A</text><text class="p" x="4" y="14">B</text><text class="p" x="21" y="10">R</text><path class="c" d="M0 4h.01M0 12h.01M25 9h.01"/></g>
<g id="pt-c" transform="translate(752,428)"><rect class="b" width="26" height="25" rx="1.5"/><rect class="s" x="8.5" width="9" height="25"/><text class="t" transform="translate(13,12.5) rotate(-90)">Pt</text><text class="p" x="4" y="6">X</text><text class="p" x="4" y="14">Y</text><text class="p" x="4" y="22">Z</text><text class="p" x="22" y="14">Pt</text><path class="c" d="M0 5h.01M0 13h.01M0 21h.01M26 12h.01"/></g>
<g id="rect-c" transform="translate(788,453)"><rect class="b" width="25" height="32" rx="1.5"/><rect class="s" x="8" width="9" height="32"/><text class="t" transform="translate(12.5,16) rotate(-90)">Rectangle</text><text class="p" x="4" y="6">P</text><text class="p" x="4" y="13">X</text><text class="p" x="4" y="21">Y</text><text class="p" x="4" y="28">R</text><text class="p" x="21" y="8">R</text><text class="p" x="21" y="25">L</text><path class="c" d="M0 4h.01M0 12h.01M0 19h.01M0 27h.01M25 7h.01M25 24h.01"/></g>
<g id="boxrec-c" transform="translate(822,474)"><rect class="bp" width="25" height="23" rx="1.5"/><rect class="s" x="8.5" width="9" height="23"/><text class="t" transform="translate(13,11.5) rotate(-90)">BoxRec</text><text class="p" x="4" y="7">B</text><text class="p" x="4" y="17">H</text><text class="p" x="21" y="12">B</text><path class="c" d="M0 6h.01M0 16h.01M25 11h.01"/></g>
<g id="corners-c" transform="translate(877,423)"><rect class="bp" width="25" height="63" rx="1.5"/><rect class="s" x="7" y="3" width="9" height="58"/><text class="t" transform="translate(11.5,31.5) rotate(-90)">Box Corners</text><text class="p" x="3.5" y="33">B</text><text class="p" x="21" y="6">A</text><text class="p" x="21" y="14">B</text><text class="p" x="21" y="21">C</text><text class="p" x="21" y="29">D</text><text class="p" x="21" y="36">E</text><text class="p" x="21" y="44">F</text><text class="p" x="21" y="51">G</text><text class="p" x="21" y="59">H</text><path class="c" d="M0 32h.01M25 5h.01M25 13h.01M25 20h.01M25 28h.01M25 35h.01M25 43h.01M25 50h.01M25 58h.01"/></g>
<g id="preview-c" transform="translate(883,492)"><rect class="b" width="17" height="24" rx="1.5"/><rect class="s" x="8" width="8" height="24"/><text class="t" transform="translate(12,12) rotate(-90)">Preview</text><text class="p" x="4" y="7">G</text><text class="p" x="4" y="20">S</text><path class="c" d="M0 6h.01M0 19h.01"/></g>
<g id="switch-c" transform="translate(834,507)"><rect class="sl" width="34" height="8" rx="2"/><rect x="19" y=".5" width="14.5" height="7" fill="#7fe96a"/><rect class="sll" width="19" height="8" rx="2"/><text class="l" x="2" y="5.5">Switch</text></g>

<g id="note-2" transform="translate(703,532)"><rect class="n" width="36" height="6"/><text class="nt" x="18" y="4.6">Schengen security</text></g>
<g id="s-s1" transform="translate(538,551)"><rect class="sl" width="85" height="8" rx="2"/><rect class="sll" width="37" height="8" rx="2"/><text class="l" x="2" y="5.5">Głębokość strefy</text><circle class="k" cx="52" cy="4" r="1"/><text class="v" x="58" y="5.5">13</text></g>
<g id="s-s2" transform="translate(539,562)"><rect class="sl" width="76" height="8" rx="2"/><rect class="sll" width="29" height="8" rx="2"/><text class="l" x="2" y="5.5">Security lines</text><circle class="k" cx="46" cy="4" r="1"/><text class="v" x="51" y="5.5">4</text></g>
<g id="s-s3" transform="translate(539,573)"><rect class="sl" width="107" height="7.5" rx="2"/><rect class="sll" width="57" height="7.5" rx="2"/><text class="l" x="2" y="5.3">Szerokość jednego przejścia</text><circle class="k" cx="66" cy="3.8" r="1"/><text class="v" x="71" y="5.3">3</text></g>
<g id="mul-s" transform="translate(649,563)"><rect class="b" width="25" height="17" rx="1.5"/><rect class="s" x="8.5" width="9" height="17"/><text class="t" transform="translate(13,8.5) rotate(-90)">A×B</text><text class="p" x="4" y="6">A</text><text class="p" x="4" y="13">B</text><text class="p" x="21" y="10">R</text><path class="c" d="M0 4h.01M0 12h.01M25 8h.01"/></g>
<g id="rect-s" transform="translate(702,550)"><rect class="b" width="25" height="32" rx="1.5"/><rect class="s" x="8" width="9" height="32"/><text class="t" transform="translate(12.5,16) rotate(-90)">Rectangle</text><text class="p" x="4" y="6">P</text><text class="p" x="4" y="13">X</text><text class="p" x="4" y="21">Y</text><text class="p" x="4" y="28">R</text><text class="p" x="21" y="8">R</text><text class="p" x="21" y="25">L</text><path class="c" d="M0 4h.01M0 11h.01M0 18h.01M0 27h.01M25 8h.01M25 24h.01"/></g>
<g id="z-s" transform="translate(702,584)"><rect class="bp" width="25" height="11" rx="1.5"/><rect class="s" x="8" width="9" height="11"/><text class="t" x="12.5" y="5.5">Z</text><text class="p" x="4" y="7">F</text><text class="p" x="21" y="7">V</text><path class="c" d="M0 6h.01M25 5h.01"/></g>
<g id="boxrec-s" transform="translate(741,561)"><rect class="b" width="25" height="22" rx="1.5"/><rect class="s" x="8.5" width="9" height="22"/><text class="t" transform="translate(13,11) rotate(-90)">BoxRec</text><text class="p" x="4" y="6">B</text><text class="p" x="4" y="17">H</text><text class="p" x="21" y="12">B</text><path class="c" d="M0 5h.01M0 16h.01M25 11h.01"/></g>
<g id="corners-s" transform="translate(779,545)"><rect class="bp" width="25" height="62" rx="1.5"/><rect class="s" x="7" y="3" width="9" height="57"/><text class="t" transform="translate(11.5,31) rotate(-90)">Box Corners</text><text class="p" x="3.5" y="31">B</text><text class="p" x="21" y="6">A</text><text class="p" x="21" y="14">B</text><text class="p" x="21" y="21">C</text><text class="p" x="21" y="28">D</text><text class="p" x="21" y="36">E</text><text class="p" x="21" y="43">F</text><text class="p" x="21" y="51">G</text><text class="p" x="21" y="58">H</text><path class="c" d="M0 29h.01M25 5h.01M25 13h.01M25 20h.01M25 27h.01M25 35h.01M25 42h.01M25 50h.01M25 57h.01"/></g>
<g id="preview-s" transform="translate(886,568)"><rect class="b" width="18" height="25" rx="1.5"/><rect class="s" x="8" width="9" height="25"/><text class="t" transform="translate(12.5,12.5) rotate(-90)">Preview</text><text class="p" x="4" y="7">G</text><text class="p" x="4" y="19">S</text><path class="c" d="M0 6h.01M0 18h.01"/></g>
<g id="switch-s" transform="translate(840,583)"><rect class="sl" width="34" height="7.5" rx="2"/><rect x="18" y=".5" width="15" height="6.5" fill="#ee7474"/><rect class="sll" width="18" height="7.5" rx="2"/><text class="l" x="2" y="5.3">Switch</text></g>

<g id="note-3" transform="translate(697,622)"><rect class="n" width="49" height="6"/><text class="nt" x="24.5" y="4.6">Schengen gates wait area</text></g>
<g id="d-g" transform="translate(541,675)"><rect class="sl" width="66" height="8" rx="2"/><text class="l" x="2.5" y="5.5">Building floor number : Two</text><polygon class="fl" points="59,1.5 65,1.5 62,7"/></g>
<g id="s-g" transform="translate(540,698)"><rect class="sl" width="106" height="7.5" rx="2"/><rect class="sll" width="19" height="7.5" rx="2"/><text class="l" x="2" y="5.3">LOS m2</text><circle class="k" cx="58" cy="3.8" r="1.2"/><text class="v" x="64" y="5.3">1.9</text></g>
<g id="mul-g1" transform="translate(651,689)"><rect class="b" width="25" height="17" rx="1.5"/><rect class="s" x="8.5" width="9" height="17"/><text class="t" transform="translate(13,8.5) rotate(-90)">A×B</text><text class="p" x="4" y="6">A</text><text class="p" x="4" y="14">B</text><text class="p" x="21" y="9">R</text><path class="c" d="M0 4h.01M0 13h.01M25 8h.01"/></g>
<g id="mul-g2" transform="translate(651,712)"><rect class="b" width="25" height="16" rx="1.5"/><rect class="s" x="8.5" width="9" height="16"/><text class="t" transform="translate(13,8) rotate(-90)">A×B</text><text class="p" x="4" y="6">A</text><text class="p" x="4" y="13">B</text><text class="p" x="21" y="9">R</text><path class="c" d="M0 4h.01M0 12h.01M25 8h.01"/></g>
<g id="div-g" transform="translate(689,695)"><rect class="b" width="25" height="17" rx="1.5"/><rect class="s" x="8.5" width="9" height="17"/><text class="t" transform="translate(13,8.5) rotate(-90)">A/B</text><text class="p" x="4" y="6">A</text><text class="p" x="4" y="14">B</text><text class="p" x="21" y="9">R</text><path class="c" d="M0 4h.01M0 12h.01M25 8h.01"/></g>
<g id="mul-g3" transform="translate(689,715)"><rect class="b" width="25" height="17" rx="1.5"/><rect class="s" x="8.5" width="9" height="17"/><text class="t" transform="translate(13,8.5) rotate(-90)">A×B</text><text class="p" x="4" y="6">A</text><text class="p" x="4" y="14">B</text><text class="p" x="21" y="9">R</text><path class="c" d="M0 5h.01M0 12h.01M25 8h.01"/></g>
<g id="item-g" transform="translate(723,670)"><rect class="b" width="25" height="25" rx="1.5"/><rect class="s" x="8.5" width="9" height="25"/><text class="t" transform="translate(13,12.5) rotate(-90)">Item</text><text class="p" x="4" y="4">L</text><text class="p" x="4" y="13">i</text><text class="p" x="4" y="21">W</text><text class="p" x="21" y="14">i</text><path class="c" d="M0 3h.01M0 12h.01M0 20h.01M25 13h.01"/></g>
<g id="rect-g" transform="translate(759,679)"><rect class="b" width="25" height="33" rx="1.5"/><rect class="s" x="8" width="9" height="33"/><text class="t" transform="translate(12.5,16.5) rotate(-90)">Rectangle</text><text class="p" x="4" y="6">P</text><text class="p" x="4" y="13">X</text><text class="p" x="4" y="21">Y</text><text class="p" x="4" y="29">R</text><text class="p" x="21" y="8">R</text><text class="p" x="21" y="26">L</text><path class="c" d="M0 4h.01M0 11h.01M0 21h.01M0 28h.01M25 7h.01M25 25h.01"/></g>
<g id="boxrec-g" transform="translate(797,662)"><rect class="b" width="25" height="23" rx="1.5"/><rect class="s" x="8.5" width="9" height="23"/><text class="t" transform="translate(13,11.5) rotate(-90)">BoxRec</text><text class="p" x="4" y="6">B</text><text class="p" x="4" y="16">H</text><text class="p" x="21" y="12">B</text><path class="c" d="M0 5h.01M0 15h.01M25 11h.01"/></g>
<g id="corners-g" transform="translate(878,634)"><rect class="bp" width="24" height="63" rx="1.5"/><rect class="s" x="7" y="3" width="9" height="58"/><text class="t" transform="translate(11.5,31.5) rotate(-90)">Box Corners</text><text class="p" x="3.5" y="33">B</text><text class="p" x="20" y="6">A</text><text class="p" x="20" y="14">B</text><text class="p" x="20" y="21">C</text><text class="p" x="20" y="29">D</text><text class="p" x="20" y="36">E</text><text class="p" x="20" y="44">F</text><text class="p" x="20" y="51">G</text><text class="p" x="20" y="59">H</text><path class="c" d="M0 32h.01M24 5h.01M24 13h.01M24 20h.01M24 28h.01M24 35h.01M24 43h.01M24 50h.01M24 58h.01"/></g>
<g id="preview-g" transform="translate(886,704)"><rect class="b" width="18" height="25" rx="1.5"/><rect class="s" x="8" width="9" height="25"/><text class="t" transform="translate(12.5,12.5) rotate(-90)">Preview</text><text class="p" x="4" y="8">G</text><text class="p" x="4" y="20">S</text><path class="c" d="M0 7h.01M0 19h.01"/></g>
<g id="switch-g" transform="translate(822,721)"><rect class="sl" width="34" height="7.5" rx="2"/><rect x="18" y=".5" width="15" height="6.5" fill="#d6d2fa"/><rect class="sll" width="18" height="7.5" rx="2"/><text class="l" x="2" y="5.3">Switch</text></g>

<g id="note-4" transform="translate(707,736)"><rect class="n" width="30" height="6"/><text class="nt" x="15" y="4.6">Non Schengen</text></g>
<g id="s-n1" transform="translate(541,783)"><rect class="sl" width="102" height="8" rx="2"/><rect class="sll" width="56" height="8" rx="2"/><text class="l" x="2" y="5.5">Flight number for peak hour</text><text class="v" x="81" y="5.5">6</text><circle class="k" cx="86" cy="4" r="1"/></g>
<g id="s-n2" transform="translate(541,794)"><rect class="sl" width="102" height="7.5" rx="2"/><rect class="sll" width="29" height="7.5" rx="2"/><text class="l" x="2" y="5.3">PAX per flight</text><text class="v" x="69" y="5.3">183</text><circle class="k" cx="75" cy="3.8" r="1"/></g>
<g id="s-n3" transform="translate(541,806)"><rect class="sl" width="102" height="7.5" rx="2"/><rect class="sll" width="50" height="7.5" rx="2"/><text class="l" x="2" y="5.3">% of PAX per 30min peak</text><text class="v" x="84" y="5.3">0.8</text><circle class="k" cx="90" cy="3.8" r="1.2"/></g>
<g id="s-n4" transform="translate(541,817)"><rect class="sl" width="102" height="7.5" rx="2"/><rect class="sll" width="19" height="7.5" rx="2"/><text class="l" x="2" y="5.3">LOS m2</text><circle class="k" cx="38" cy="3.8" r="1.2"/><text class="v" x="44" y="5.3">1.4</text></g>
<g id="mul-n1" transform="translate(650,783)"><rect class="b" width="25" height="17" rx="1.5"/><rect class="s" x="8.5" width="9" height="17"/><text class="t" transform="translate(13,8.5) rotate(-90)">A×B</text><text class="p" x="4" y="6">A</text><text class="p" x="4" y="14">B</text><text class="p" x="21" y="9">R</text><path class="c" d="M0 4h.01M0 13h.01M25 8h.01"/></g>
<g id="mul-n2" transform="translate(685,786)"><rect class="b" width="25" height="17" rx="1.5"/><rect class="s" x="8.5" width="9" height="17"/><text class="t" transform="translate(13,8.5) rotate(-90)">A×B</text><text class="p" x="4" y="6">A</text><text class="p" x="4" y="14">B</text><text class="p" x="21" y="9">R</text><path class="c" d="M0 4h.01M0 13h.01M25 9h.01"/></g>
<g id="mul-n3" transform="translate(720,793)"><rect class="b" width="25" height="17" rx="1.5"/><rect class="s" x="8.5" width="9" height="17"/><text class="t" transform="translate(13,8.5) rotate(-90)">A×B</text><text class="p" x="4" y="6">A</text><text class="p" x="4" y="14">B</text><text class="p" x="21" y="9">R</text><path class="c" d="M0 4h.01M0 12h.01M25 8h.01"/></g>
<g id="div-n" transform="translate(756,776)"><rect class="b" width="25" height="18" rx="1.5"/><rect class="s" x="8.5" width="9" height="18"/><text class="t" transform="translate(13,9) rotate(-90)">A/B</text><text class="p" x="4" y="6">A</text><text class="p" x="4" y="14">B</text><text class="p" x="21" y="10">R</text><path class="c" d="M0 4h.01M0 12h.01M25 9h.01"/></g>
<g id="pt-n" transform="translate(755,748)"><rect class="b" width="26" height="25" rx="1.5"/><rect class="s" x="8.5" width="9" height="25"/><text class="t" transform="translate(13,12.5) rotate(-90)">Pt</text><text class="p" x="4" y="6">X</text><text class="p" x="4" y="14">Y</text><text class="p" x="4" y="22">Z</text><text class="p" x="22" y="14">Pt</text><path class="c" d="M0 4h.01M0 12h.01M0 21h.01M26 12h.01"/></g>
<g id="neg-n" transform="translate(784,794)"><rect class="b" width="24" height="15" rx="1.5"/><rect class="s" x="8" width="9" height="15"/><text class="t" transform="translate(12.5,7.5) rotate(-90)">Neg</text><text class="p" x="4" y="9">X</text><text class="p" x="20.5" y="9">Y</text><path class="c" d="M0 8h.01M24 7h.01"/></g>
<g id="rect-n" transform="translate(806,758)"><rect class="b" width="25" height="32" rx="1.5"/><rect class="s" x="8" width="9" height="32"/><text class="t" transform="translate(12.5,16) rotate(-90)">Rectangle</text><text class="p" x="4" y="6">P</text><text class="p" x="4" y="13">X</text><text class="p" x="4" y="21">Y</text><text class="p" x="4" y="28">R</text><text class="p" x="21" y="8">R</text><text class="p" x="21" y="25">L</text><path class="c" d="M0 4h.01M0 12h.01M0 20h.01M0 27h.01M25 7h.01M25 24h.01"/></g>
<g id="boxrec-n" transform="translate(824,794)"><rect class="bp" width="25" height="24" rx="1.5"/><rect class="s" x="8.5" width="9" height="24"/><text class="t" transform="translate(13,12) rotate(-90)">BoxRec</text><text class="p" x="4" y="7">B</text><text class="p" x="4" y="18">H</text><text class="p" x="21" y="13">B</text><path class="c" d="M0 6h.01M0 17h.01M25 12h.01"/></g>
<g id="corners-n" transform="translate(879,749)"><rect class="bp" width="25" height="62" rx="1.5"/><rect class="s" x="7" y="3" width="9" height="57"/><text class="t" transform="translate(11.5,31) rotate(-90)">Box Corners</text><text class="p" x="3.5" y="32">B</text><text class="p" x="21" y="6">A</text><text class="p" x="21" y="13">B</text><text class="p" x="21" y="21">C</text><text class="p" x="21" y="28">D</text><text class="p" x="21" y="36">E</text><text class="p" x="21" y="43">F</text><text class="p" x="21" y="51">G</text><text class="p" x="21" y="58">H</text><path class="c" d="M0 31h.01M25 5h.01M25 12h.01M25 20h.01M25 27h.01M25 35h.01M25 42h.01M25 50h.01M25 57h.01"/></g>
<g id="preview-n" transform="translate(885,817)"><rect class="b" width="17" height="25" rx="1.5"/><rect class="s" x="8" width="8" height="25"/><text class="t" transform="translate(12,12.5) rotate(-90)">Preview</text><text class="p" x="4" y="7">G</text><text class="p" x="4" y="20">S</text><path class="c" d="M0 6h.01M0 19h.01"/></g>
<g id="switch-n" transform="translate(838,832)"><rect class="sl" width="34" height="7.5" rx="2"/><rect x="18" y=".5" width="15" height="6.5" fill="#7ed47a"/><rect class="sll" width="18" height="7.5" rx="2"/><text class="l" x="2" y="5.3">Switch</text></g>

<g id="note-5" transform="translate(700,855)"><rect class="n" width="45" height="6"/><text class="nt" x="22.5" y="4.6">Non Schengen Security</text></g>
<g id="s-x1" transform="translate(540,874)"><rect class="sl" width="83" height="7.5" rx="2"/><rect class="sll" width="36" height="7.5" rx="2"/><text class="l" x="2" y="5.3">Głębokość strefy</text><circle class="k" cx="52" cy="3.8" r="1"/><text class="v" x="58" y="5.3">13</text></g>
<g id="s-x2" transform="translate(540,885)"><rect class="sl" width="75" height="7.5" rx="2"/><rect class="sll" width="29" height="7.5" rx="2"/><text class="l" x="2" y="5.3">Security lines</text><text class="v" x="52" y="5.3">6</text><circle class="k" cx="57" cy="3.8" r="1"/></g>
<g id="s-x3" transform="translate(540,896)"><rect class="sl" width="106" height="7.5" rx="2"/><rect class="sll" width="57" height="7.5" rx="2"/><text class="l" x="2" y="5.3">Szerokość jednego przejścia</text><circle class="k" cx="65" cy="3.8" r="1"/><text class="v" x="71" y="5.3">3</text></g>
<g id="mul-x" transform="translate(650,886)"><rect class="b" width="25" height="17" rx="1.5"/><rect class="s" x="8.5" width="9" height="17"/><text class="t" transform="translate(13,8.5) rotate(-90)">A×B</text><text class="p" x="4" y="6">A</text><text class="p" x="4" y="13">B</text><text class="p" x="21" y="9">R</text><path class="c" d="M0 4h.01M0 12h.01M25 8h.01"/></g>
<g id="neg-x" transform="translate(690,875)"><rect class="b" width="24" height="16" rx="1.5"/><rect class="s" x="8" width="9" height="16"/><text class="t" transform="translate(12.5,8) rotate(-90)">Neg</text><text class="p" x="4" y="9">X</text><text class="p" x="20.5" y="9">Y</text><path class="c" d="M0 8h.01M24 8h.01"/></g>
<g id="rect-x" transform="translate(724,873)"><rect class="b" width="25" height="32" rx="1.5"/><rect class="s" x="8" width="9" height="32"/><text class="t" transform="translate(12.5,16) rotate(-90)">Rectangle</text><text class="p" x="4" y="6">P</text><text class="p" x="4" y="13">X</text><text class="p" x="4" y="21">Y</text><text class="p" x="4" y="28">R</text><text class="p" x="21" y="9">R</text><text class="p" x="21" y="25">L</text><path class="c" d="M0 4h.01M0 12h.01M0 19h.01M0 27h.01M25 8h.01M25 24h.01"/></g>
<g id="z-x" transform="translate(724,906)"><rect class="bp" width="25" height="11" rx="1.5"/><rect class="s" x="8" width="9" height="11"/><text class="t" x="12.5" y="5.5">Z</text><text class="p" x="4" y="7">F</text><text class="p" x="21" y="7">V</text><path class="c" d="M0 5h.01M25 6h.01"/></g>
<g id="boxrec-x" transform="translate(764,886)"><rect class="b" width="25" height="24" rx="1.5"/><rect class="s" x="8.5" width="9" height="24"/><text class="t" transform="translate(13,12) rotate(-90)">BoxRec</text><text class="p" x="4" y="7">B</text><text class="p" x="4" y="18">H</text><text class="p" x="21" y="13">B</text><path class="c" d="M0 6h.01M0 17h.01M25 12h.01"/></g>
<g id="corners-x" transform="translate(799,867)"><rect class="bp" width="25" height="62" rx="1.5"/><rect class="s" x="7" y="3" width="9" height="57"/><text class="t" transform="translate(11.5,31) rotate(-90)">Box Corners</text><text class="p" x="3.5" y="32">B</text><text class="p" x="21" y="6">A</text><text class="p" x="21" y="13">B</text><text class="p" x="21" y="21">C</text><text class="p" x="21" y="28">D</text><text class="p" x="21" y="36">E</text><text class="p" x="21" y="43">F</text><text class="p" x="21" y="51">G</text><text class="p" x="21" y="58">H</text><path class="c" d="M0 31h.01M25 5h.01M25 12h.01M25 20h.01M25 27h.01M25 35h.01M25 42h.01M25 50h.01M25 57h.01"/></g>
<g id="preview-x" transform="translate(889,898)"><rect class="b" width="17" height="24" rx="1.5"/><rect class="s" x="8" width="8" height="24"/><text class="t" transform="translate(12,12) rotate(-90)">Preview</text><text class="p" x="4" y="7">G</text><text class="p" x="4" y="20">S</text><path class="c" d="M0 6h.01M0 19h.01"/></g>
<g id="switch-x" transform="translate(842,914)"><rect class="sl" width="34" height="7.5" rx="2"/><rect x="18" y=".5" width="15" height="6.5" fill="#e87272"/><rect class="sll" width="18" height="7.5" rx="2"/><text class="l" x="2" y="5.3">Switch</text></g>

<g id="note-6" transform="translate(693,941)"><rect class="n" width="60" height="7"/><text class="nt" x="30" y="5">Non Schengen Gates wait area</text></g>
<g id="d-y" transform="translate(542,993)"><rect class="sl" width="66" height="8" rx="2"/><text class="l" x="2.5" y="5.5">Building floor number : Two</text><polygon class="fl" points="59,1.5 65,1.5 62,7"/></g>
<g id="s-y" transform="translate(542,1016)"><rect class="sl" width="103" height="7.5" rx="2"/><rect class="sll" width="19" height="7.5" rx="2"/><text class="l" x="2" y="5.3">LOS m2</text><circle class="k" cx="57" cy="3.8" r="1.2"/><text class="v" x="63" y="5.3">1.9</text></g>
<g id="mul-y1" transform="translate(652,1006)"><rect class="b" width="25" height="18" rx="1.5"/><rect class="s" x="8.5" width="9" height="18"/><text class="t" transform="translate(13,9) rotate(-90)">A×B</text><text class="p" x="4" y="6">A</text><text class="p" x="4" y="14">B</text><text class="p" x="21" y="10">R</text><path class="c" d="M0 4h.01M0 13h.01M25 9h.01"/></g>
<g id="mul-y2" transform="translate(652,1029)"><rect class="b" width="25" height="17" rx="1.5"/><rect class="s" x="8.5" width="9" height="17"/><text class="t" transform="translate(13,8.5) rotate(-90)">A×B</text><text class="p" x="4" y="6">A</text><text class="p" x="4" y="14">B</text><text class="p" x="21" y="9">R</text><path class="c" d="M0 4h.01M0 12h.01M25 8h.01"/></g>
<g id="div-y" transform="translate(690,1013)"><rect class="b" width="25" height="17" rx="1.5"/><rect class="s" x="8.5" width="9" height="17"/><text class="t" transform="translate(13,8.5) rotate(-90)">A/B</text><text class="p" x="4" y="6">A</text><text class="p" x="4" y="14">B</text><text class="p" x="21" y="9">R</text><path class="c" d="M0 4h.01M0 12h.01M25 8h.01"/></g>
<g id="mul-y3" transform="translate(690,1033)"><rect class="b" width="25" height="17" rx="1.5"/><rect class="s" x="8.5" width="9" height="17"/><text class="t" transform="translate(13,8.5) rotate(-90)">A×B</text><text class="p" x="4" y="6">A</text><text class="p" x="4" y="14">B</text><text class="p" x="21" y="9">R</text><path class="c" d="M0 4h.01M0 12h.01M25 8h.01"/></g>
<g id="neg-y" transform="translate(725,1021)"><rect class="b" width="24" height="15" rx="1.5"/><rect class="s" x="8" width="9" height="15"/><text class="t" transform="translate(12.5,7.5) rotate(-90)">Neg</text><text class="p" x="4" y="8">X</text><text class="p" x="20.5" y="8">Y</text><path class="c" d="M0 7h.01M24 7h.01"/></g>
<g id="item-y" transform="translate(724,989)"><rect class="b" width="25" height="24" rx="1.5"/><rect class="s" x="8.5" width="9" height="24"/><text class="t" transform="translate(13,12) rotate(-90)">Item</text><text class="p" x="4" y="5">L</text><text class="p" x="4" y="13">i</text><text class="p" x="4" y="21">W</text><text class="p" x="21" y="13">i</text><path class="c" d="M0 4h.01M0 12h.01M0 20h.01M25 12h.01"/></g>
<g id="rect-y" transform="translate(761,998)"><rect class="b" width="25" height="32" rx="1.5"/><rect class="s" x="8" width="9" height="32"/><text class="t" transform="translate(12.5,16) rotate(-90)">Rectangle</text><text class="p" x="4" y="6">P</text><text class="p" x="4" y="13">X</text><text class="p" x="4" y="21">Y</text><text class="p" x="4" y="28">R</text><text class="p" x="21" y="8">R</text><text class="p" x="21" y="25">L</text><path class="c" d="M0 4h.01M0 14h.01M0 20h.01M0 27h.01M25 7h.01M25 24h.01"/></g>
<g id="boxrec-y" transform="translate(799,980)"><rect class="b" width="25" height="23" rx="1.5"/><rect class="s" x="8.5" width="9" height="23"/><text class="t" transform="translate(13,11.5) rotate(-90)">BoxRec</text><text class="p" x="4" y="6">B</text><text class="p" x="4" y="18">H</text><text class="p" x="21" y="13">B</text><path class="c" d="M0 5h.01M0 17h.01M25 12h.01"/></g>
<g id="corners-y" transform="translate(880,954)"><rect class="bp" width="25" height="62" rx="1.5"/><rect class="s" x="7" y="3" width="9" height="57"/><text class="t" transform="translate(11.5,31) rotate(-90)">Box Corners</text><text class="p" x="3.5" y="32">B</text><text class="p" x="21" y="6">A</text><text class="p" x="21" y="13">B</text><text class="p" x="21" y="21">C</text><text class="p" x="21" y="28">D</text><text class="p" x="21" y="36">E</text><text class="p" x="21" y="43">F</text><text class="p" x="21" y="51">G</text><text class="p" x="21" y="58">H</text><path class="c" d="M0 31h.01M25 5h.01M25 12h.01M25 20h.01M25 27h.01M25 35h.01M25 42h.01M25 50h.01M25 57h.01"/></g>
<g id="preview-y" transform="translate(886,1024)"><rect class="b" width="18" height="25" rx="1.5"/><rect class="s" x="8" width="9" height="25"/><text class="t" transform="translate(12.5,12.5) rotate(-90)">Preview</text><text class="p" x="4" y="7">G</text><text class="p" x="4" y="20">S</text><path class="c" d="M0 6h.01M0 19h.01"/></g>
<g id="switch-y" transform="translate(824,1039)"><rect class="sl" width="34" height="7.5" rx="2"/><rect x="18" y=".5" width="15" height="6.5" fill="#8a8af0"/><rect class="sll" width="18" height="7.5" rx="2"/><text class="l" x="2" y="5.3">Switch</text></g>
</svg>
